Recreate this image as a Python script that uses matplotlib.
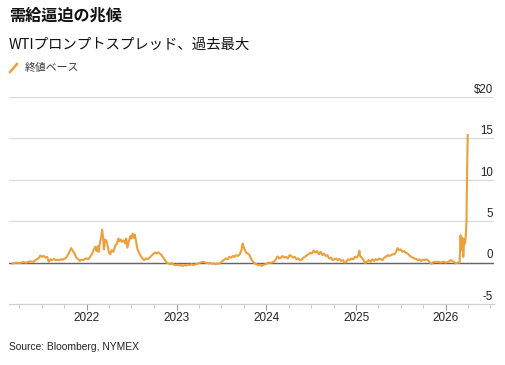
import matplotlib
matplotlib.use("Agg")
import matplotlib.pyplot as plt
import matplotlib.dates as mdates
from matplotlib.lines import Line2D
import pandas as pd

# WTI prompt spread, closing basis ($/bbl)
dates = [
    "2021-03-05", "2021-03-19", "2021-04-02", "2021-04-16", "2021-04-30", "2021-05-14",
    "2021-05-28", "2021-06-11", "2021-06-18", "2021-06-25", "2021-07-02", "2021-07-09",
    "2021-07-16", "2021-07-23", "2021-07-30", "2021-08-06", "2021-08-13", "2021-08-20",
    "2021-08-27", "2021-09-03", "2021-09-10", "2021-09-17", "2021-09-24", "2021-10-01",
    "2021-10-08", "2021-10-15", "2021-10-22", "2021-10-29", "2021-11-05", "2021-11-12",
    "2021-11-19", "2021-11-26", "2021-12-03", "2021-12-10", "2021-12-17", "2021-12-24",
    "2021-12-31", "2022-01-07", "2022-01-14", "2022-01-21", "2022-01-28", "2022-02-04",
    "2022-02-09", "2022-02-14", "2022-02-18", "2022-02-23", "2022-03-01", "2022-03-04",
    "2022-03-08", "2022-03-11", "2022-03-16", "2022-03-22", "2022-03-28", "2022-04-01",
    "2022-04-06", "2022-04-12", "2022-04-19", "2022-04-26", "2022-05-03", "2022-05-09",
    "2022-05-13", "2022-05-18", "2022-05-24", "2022-05-31", "2022-06-06", "2022-06-10",
    "2022-06-15", "2022-06-21", "2022-06-27", "2022-07-01", "2022-07-06", "2022-07-11",
    "2022-07-15", "2022-07-20", "2022-07-26", "2022-08-01", "2022-08-08", "2022-08-15",
    "2022-08-22", "2022-08-29", "2022-09-06", "2022-09-13", "2022-09-20", "2022-09-27",
    "2022-10-04", "2022-10-11", "2022-10-18", "2022-10-25", "2022-11-01", "2022-11-08",
    "2022-11-15", "2022-11-22", "2022-11-29", "2022-12-06", "2022-12-13", "2022-12-20",
    "2022-12-28", "2023-01-06", "2023-01-13", "2023-01-20", "2023-01-27", "2023-02-03",
    "2023-02-10", "2023-02-17", "2023-02-24", "2023-03-03", "2023-03-10", "2023-03-17",
    "2023-03-24", "2023-03-31", "2023-04-07", "2023-04-14", "2023-04-21", "2023-04-28",
    "2023-05-05", "2023-05-12", "2023-05-19", "2023-05-26", "2023-06-02", "2023-06-09",
    "2023-06-16", "2023-06-23", "2023-06-30", "2023-07-07", "2023-07-14", "2023-07-21",
    "2023-07-28", "2023-08-04", "2023-08-11", "2023-08-18", "2023-08-25", "2023-09-01",
    "2023-09-08", "2023-09-15", "2023-09-22", "2023-09-27", "2023-10-02", "2023-10-06",
    "2023-10-11", "2023-10-18", "2023-10-25", "2023-11-01", "2023-11-08", "2023-11-15",
    "2023-11-22", "2023-11-29", "2023-12-06", "2023-12-13", "2023-12-20", "2023-12-27",
    "2024-01-05", "2024-01-12", "2024-01-19", "2024-01-26", "2024-02-02", "2024-02-09",
    "2024-02-16", "2024-02-23", "2024-03-01", "2024-03-08", "2024-03-15", "2024-03-22",
    "2024-03-29", "2024-04-05", "2024-04-12", "2024-04-19", "2024-04-26", "2024-05-03",
    "2024-05-10", "2024-05-17", "2024-05-24", "2024-05-31", "2024-06-07", "2024-06-14",
    "2024-06-21", "2024-06-28", "2024-07-05", "2024-07-12", "2024-07-19", "2024-07-26",
    "2024-08-02", "2024-08-09", "2024-08-16", "2024-08-23", "2024-08-30", "2024-09-06",
    "2024-09-13", "2024-09-20", "2024-09-27", "2024-10-04", "2024-10-11", "2024-10-18",
    "2024-10-25", "2024-11-01", "2024-11-08", "2024-11-15", "2024-11-22", "2024-11-29",
    "2024-12-06", "2024-12-13", "2024-12-20", "2024-12-27", "2025-01-03", "2025-01-10",
    "2025-01-14", "2025-01-17", "2025-01-24", "2025-01-31", "2025-02-07", "2025-02-14",
    "2025-02-21", "2025-02-28", "2025-03-07", "2025-03-14", "2025-03-21", "2025-03-28",
    "2025-04-04", "2025-04-11", "2025-04-18", "2025-04-25", "2025-05-02", "2025-05-09",
    "2025-05-16", "2025-05-23", "2025-05-30", "2025-06-06", "2025-06-13", "2025-06-18",
    "2025-06-24", "2025-07-01", "2025-07-08", "2025-07-15", "2025-07-22", "2025-07-29",
    "2025-08-05", "2025-08-12", "2025-08-19", "2025-08-26", "2025-09-02", "2025-09-09",
    "2025-09-16", "2025-09-23", "2025-09-30", "2025-10-07", "2025-10-14", "2025-10-21",
    "2025-10-28", "2025-11-04", "2025-11-11", "2025-11-18", "2025-11-25", "2025-12-02",
    "2025-12-09", "2025-12-16", "2025-12-23", "2025-12-30", "2026-01-06", "2026-01-13",
    "2026-01-20", "2026-01-27", "2026-02-03", "2026-02-10", "2026-02-17", "2026-02-26",
    "2026-03-02", "2026-03-05", "2026-03-09", "2026-03-13", "2026-03-17", "2026-03-20",
    "2026-03-23", "2026-03-26", "2026-03-28", "2026-03-31",
]
spread = [
    -0.1, 0.0, -0.05, 0.05, 0.0, 0.15,
    0.1, 0.4, 0.5, 0.85, 0.7, 0.8,
    0.6, 0.7, 0.1, 0.4, 0.3, 0.45,
    0.3, 0.35, 0.3, 0.4, 0.35, 0.45,
    0.55, 0.9, 1.3, 1.75, 1.4, 1.1,
    0.6, 0.4, 0.2, 0.35, 0.3, 0.45,
    0.5, 0.4, 0.7, 1.0, 1.5, 1.9,
    1.4, 2.0, 1.3, 2.4, 3.2, 4.0,
    3.0, 1.6, 2.8, 2.6, 1.8, 1.2,
    1.0, 1.5, 1.3, 2.0, 2.3, 2.9,
    2.6, 2.8, 2.5, 2.7, 2.3, 2.9,
    1.8, 2.6, 3.2, 2.9, 3.5, 3.0,
    3.4, 2.6, 1.6, 1.2, 0.8, 0.5,
    0.3, 0.5, 0.4, 0.6, 0.8, 1.0,
    1.2, 1.1, 1.25, 1.1, 0.9, 0.6,
    0.3, 0.0, -0.1, -0.2, -0.05, -0.25,
    -0.3, -0.25, -0.35, -0.3, -0.4, -0.3,
    -0.35, -0.25, -0.3, -0.2, -0.3, -0.25,
    -0.15, -0.1, 0.0, 0.05, 0.1, 0.0,
    -0.05, -0.1, -0.05, -0.15, -0.1, -0.2,
    -0.1, -0.15, 0.0, 0.2, 0.35, 0.5,
    0.4, 0.7, 0.6, 0.8, 0.7, 0.9,
    0.8, 1.0, 1.5, 2.3, 1.8, 1.5,
    1.2, 1.1, 0.9, 0.4, 0.1, -0.1,
    -0.2, -0.3, -0.25, -0.4, -0.3, -0.2,
    -0.1, 0.0, -0.05, 0.05, 0.1, 0.4,
    0.75, 0.5, 0.6, 0.8, 0.6, 0.7,
    0.5, 0.9, 0.8, 0.6, 0.7, 0.4,
    0.5, 0.3, 0.35, 0.6, 0.7, 0.9,
    1.0, 1.2, 1.1, 1.45, 1.2, 1.4,
    1.0, 1.3, 0.9, 1.1, 0.8, 0.9,
    0.5, 0.6, 0.3, 0.4, 0.5, 0.3,
    0.45, 0.2, 0.3, 0.0, 0.1, 0.4,
    0.3, 0.5, 0.4, 0.7, 0.6, 0.9,
    1.45, 0.8, 0.6, 0.3, -0.05, 0.1,
    0.3, 0.1, 0.4, 0.2, 0.4, 0.3,
    0.5, 0.4, 0.3, 0.6, 0.7, 0.9,
    0.8, 0.9, 1.0, 1.0, 1.3, 1.75,
    1.5, 1.6, 1.3, 1.4, 1.2, 1.1,
    0.9, 0.7, 0.6, 0.5, 0.45, 0.3,
    0.4, 0.2, 0.35, 0.3, 0.4, 0.25,
    0.0, -0.15, 0.05, 0.1, 0.05, 0.1,
    0.0, 0.05, 0.1, 0.0, 0.05, 0.1,
    0.3, 0.2, 0.1, -0.1, 0.0, 0.0,
    3.3, 1.5, 3.0, 0.7, 2.8, 2.3,
    3.2, 5.0, 10.0, 15.4,
]
y_ticks = [-5, 0, 5, 10, 15, 20]
y_labels = ["-5", "0", "5", "10", "15", "$20"]

title = "需給逼迫の兆候"
subtitle = "WTIプロンプトスプレッド、過去最大"
legend_label = "終値ベース"
source = "Source: Bloomberg, NYMEX"

line_color = "#eda03a"
jp_font = ["Noto Sans CJK JP", "DejaVu Sans"]
plt.rcParams["font.family"] = ["Liberation Sans", "DejaVu Sans"]

s = pd.Series(spread, index=pd.to_datetime(dates))

fig = plt.figure(figsize=(5.06, 3.65), dpi=100)
ax = fig.add_axes([9 / 506, 1 - 304 / 365, 485 / 506, 207 / 365])

# gridlines and zero line
for t in y_ticks[1:]:
    ax.axhline(t, color="#dadada", lw=0.9, zorder=1)
ax.axhline(0, color="#666666", lw=1.0, zorder=2)

ax.plot(s.index, s.values, color=line_color, lw=1.5, zorder=3)

ax.set_ylim(-5, 20)
ax.set_xlim(pd.Timestamp("2021-02-18"), pd.Timestamp("2026-07-16"))

for side in ["top", "right", "left"]:
    ax.spines[side].set_visible(False)
ax.spines["bottom"].set_color("#d0d0d0")
ax.spines["bottom"].set_linewidth(0.9)

ax.xaxis.set_major_locator(mdates.YearLocator())
ax.xaxis.set_major_formatter(mdates.DateFormatter("%Y"))
ax.xaxis.set_minor_locator(mdates.MonthLocator(bymonth=[4, 7, 10]))
ax.tick_params(axis="x", which="major", length=4, color="#999999", width=0.8,
               labelsize=8.5, labelcolor="#222222", pad=2)
ax.tick_params(axis="x", which="minor", length=3, color="#cccccc", width=0.8)
ax.set_yticks([])

# y labels sit just above each gridline, right aligned
for t, lab in zip(y_ticks, y_labels):
    ax.text(0.998, t + 0.15, lab, transform=ax.get_yaxis_transform(),
            ha="right", va="bottom", fontsize=8.3, color="#222222")

fig.text(9 / 506, 1 - 16 / 365, title, family=jp_font, fontsize=11.6,
         fontweight="bold", va="center", ha="left", color="#111111")
fig.text(9 / 506, 1 - 45 / 365, subtitle, family=jp_font, fontsize=10.4,
         va="center", ha="left", color="#111111")
fig.add_artist(Line2D([10 / 506, 17 / 506], [1 - 72 / 365, 1 - 64 / 365],
                      color=line_color, lw=1.8, transform=fig.transFigure))
fig.text(25 / 506, 1 - 68 / 365, legend_label, family=jp_font, fontsize=7.8,
         va="center", ha="left", color="#333333")
fig.text(9 / 506, 1 - 347 / 365, source, fontsize=7.4, va="center", ha="left",
         color="#222222")

fig.savefig("out.png", dpi=100)
